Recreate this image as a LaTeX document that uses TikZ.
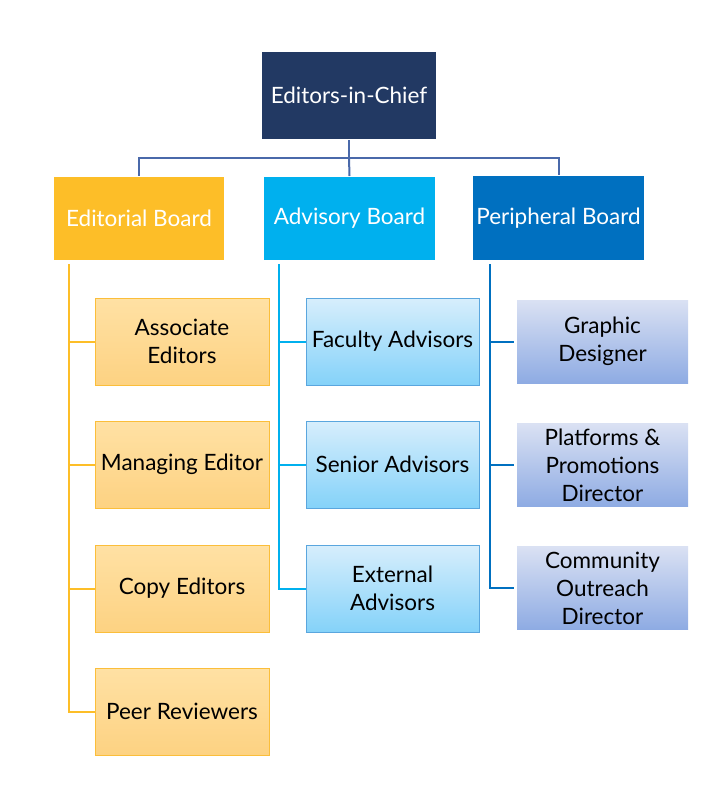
\documentclass[tikz,border=0pt]{standalone}
\usepackage{fontspec}
\setmainfont{Lato}
\usepackage{tikz}
\usetikzlibrary{positioning}

\definecolor{chiefblue}{HTML}{223963}
\definecolor{hubline}{HTML}{4A69AA}
\definecolor{edgold}{HTML}{FDBE28}
\definecolor{advcyan}{HTML}{00B0EE}
\definecolor{perblue}{HTML}{0070C0}
\definecolor{edtop}{HTML}{FFE1A4}
\definecolor{edbot}{HTML}{FDD282}
\definecolor{edrim}{HTML}{FBBE3A}
\definecolor{advtop}{HTML}{D7EEFC}
\definecolor{advbot}{HTML}{84D2F9}
\definecolor{advrim}{HTML}{5AA6DE}
\definecolor{pertop}{HTML}{DAE1F3}
\definecolor{perbot}{HTML}{8EABE3}

\tikzset{
  boxfont/.style={font=\fontsize{22.5}{28}\selectfont},
  boardbox/.style={minimum width=171pt, minimum height=83pt, inner sep=1pt,
    text=white, boxfont},
  edsub/.style={draw=edrim, line width=1pt, top color=edtop, bottom color=edbot,
    minimum width=174pt, minimum height=87pt, inner sep=1pt, align=center, boxfont},
  advsub/.style={draw=advrim, line width=1pt, top color=advtop, bottom color=advbot,
    minimum width=173pt, minimum height=87pt, inner sep=1pt, align=center, boxfont},
  persub/.style={top color=pertop, bottom color=perbot,
    minimum width=171pt, minimum height=83pt, inner sep=1pt, align=center, boxfont}
}

\begin{document}
\begin{tikzpicture}[x=1pt,y=-1pt,line width=2pt]
  \useasboundingbox (0,0) rectangle (724,798);

  % top
  \node[fill=chiefblue, minimum width=174pt, minimum height=87pt, text=white,
    boxfont] (chief) at (349,95.5) {Editors-in-Chief};

  % boards
  \node[boardbox, fill=edgold, minimum width=170pt] (ed) at (139,218.5) {Editorial Board};
  \node[boardbox, fill=advcyan] (adv) at (349.5,218.5) {Advisory Board};
  \node[boardbox, fill=perblue, minimum height=84pt] (per) at (558.5,218) {Peripheral Board};

  % editorial board members
  \node[edsub] (assoc) at (182,341.5) {Associate\\Editors};
  \node[edsub] (manag) at (182,464.5) {Managing Editor};
  \node[edsub] (copy) at (182,588.5) {Copy Editors};
  \node[edsub] (peer) at (182,711.5) {Peer Reviewers};

  % advisory board members
  \node[advsub] (faculty) at (392.5,341.5) {Faculty Advisors};
  \node[advsub] (senior) at (392.5,464.5) {Senior Advisors};
  \node[advsub] (extern) at (392.5,588.5) {External\\Advisors};

  % peripheral board members
  \node[persub] (graphic) at (602.5,341.5) {Graphic\\Designer};
  \node[persub] (platf) at (602.5,465) {Platforms \&\\Promotions\\Director};
  \node[persub] (commun) at (602.5,588) {Community\\Outreach\\Director};

  % links from the top
  \draw[hubline] (chief.south) -- ++(0,18) coordinate (hub);
  \draw[hubline] (hub) -| (ed.north);
  \draw[hubline] (hub) -| (per.north);
  \draw[hubline] (hub) -- (adv.north);

  % editorial links
  \coordinate (edtrunk) at ([xshift=-70pt,yshift=-3pt]ed.south);
  \draw[edgold] (edtrunk) |- (assoc.west);
  \draw[edgold] (edtrunk) |- (manag.west);
  \draw[edgold] (edtrunk) |- (copy.west);
  \draw[edgold] (edtrunk) |- (peer.west);

  % advisory links
  \coordinate (advtrunk) at ([xshift=-70.5pt,yshift=-3pt]adv.south);
  \draw[advcyan] (advtrunk) |- (faculty.west);
  \draw[advcyan] (advtrunk) |- (senior.west);
  \draw[advcyan] (advtrunk) |- (extern.west);

  % peripheral links
  \coordinate (pertrunk) at ([xshift=-68.5pt,yshift=-3pt]per.south);
  \draw[perblue] (pertrunk) |- ([xshift=-2pt]graphic.west);
  \draw[perblue] (pertrunk) |- ([xshift=-2pt]platf.west);
  \draw[perblue] (pertrunk) |- ([xshift=-2pt]commun.west);
\end{tikzpicture}
\end{document}
